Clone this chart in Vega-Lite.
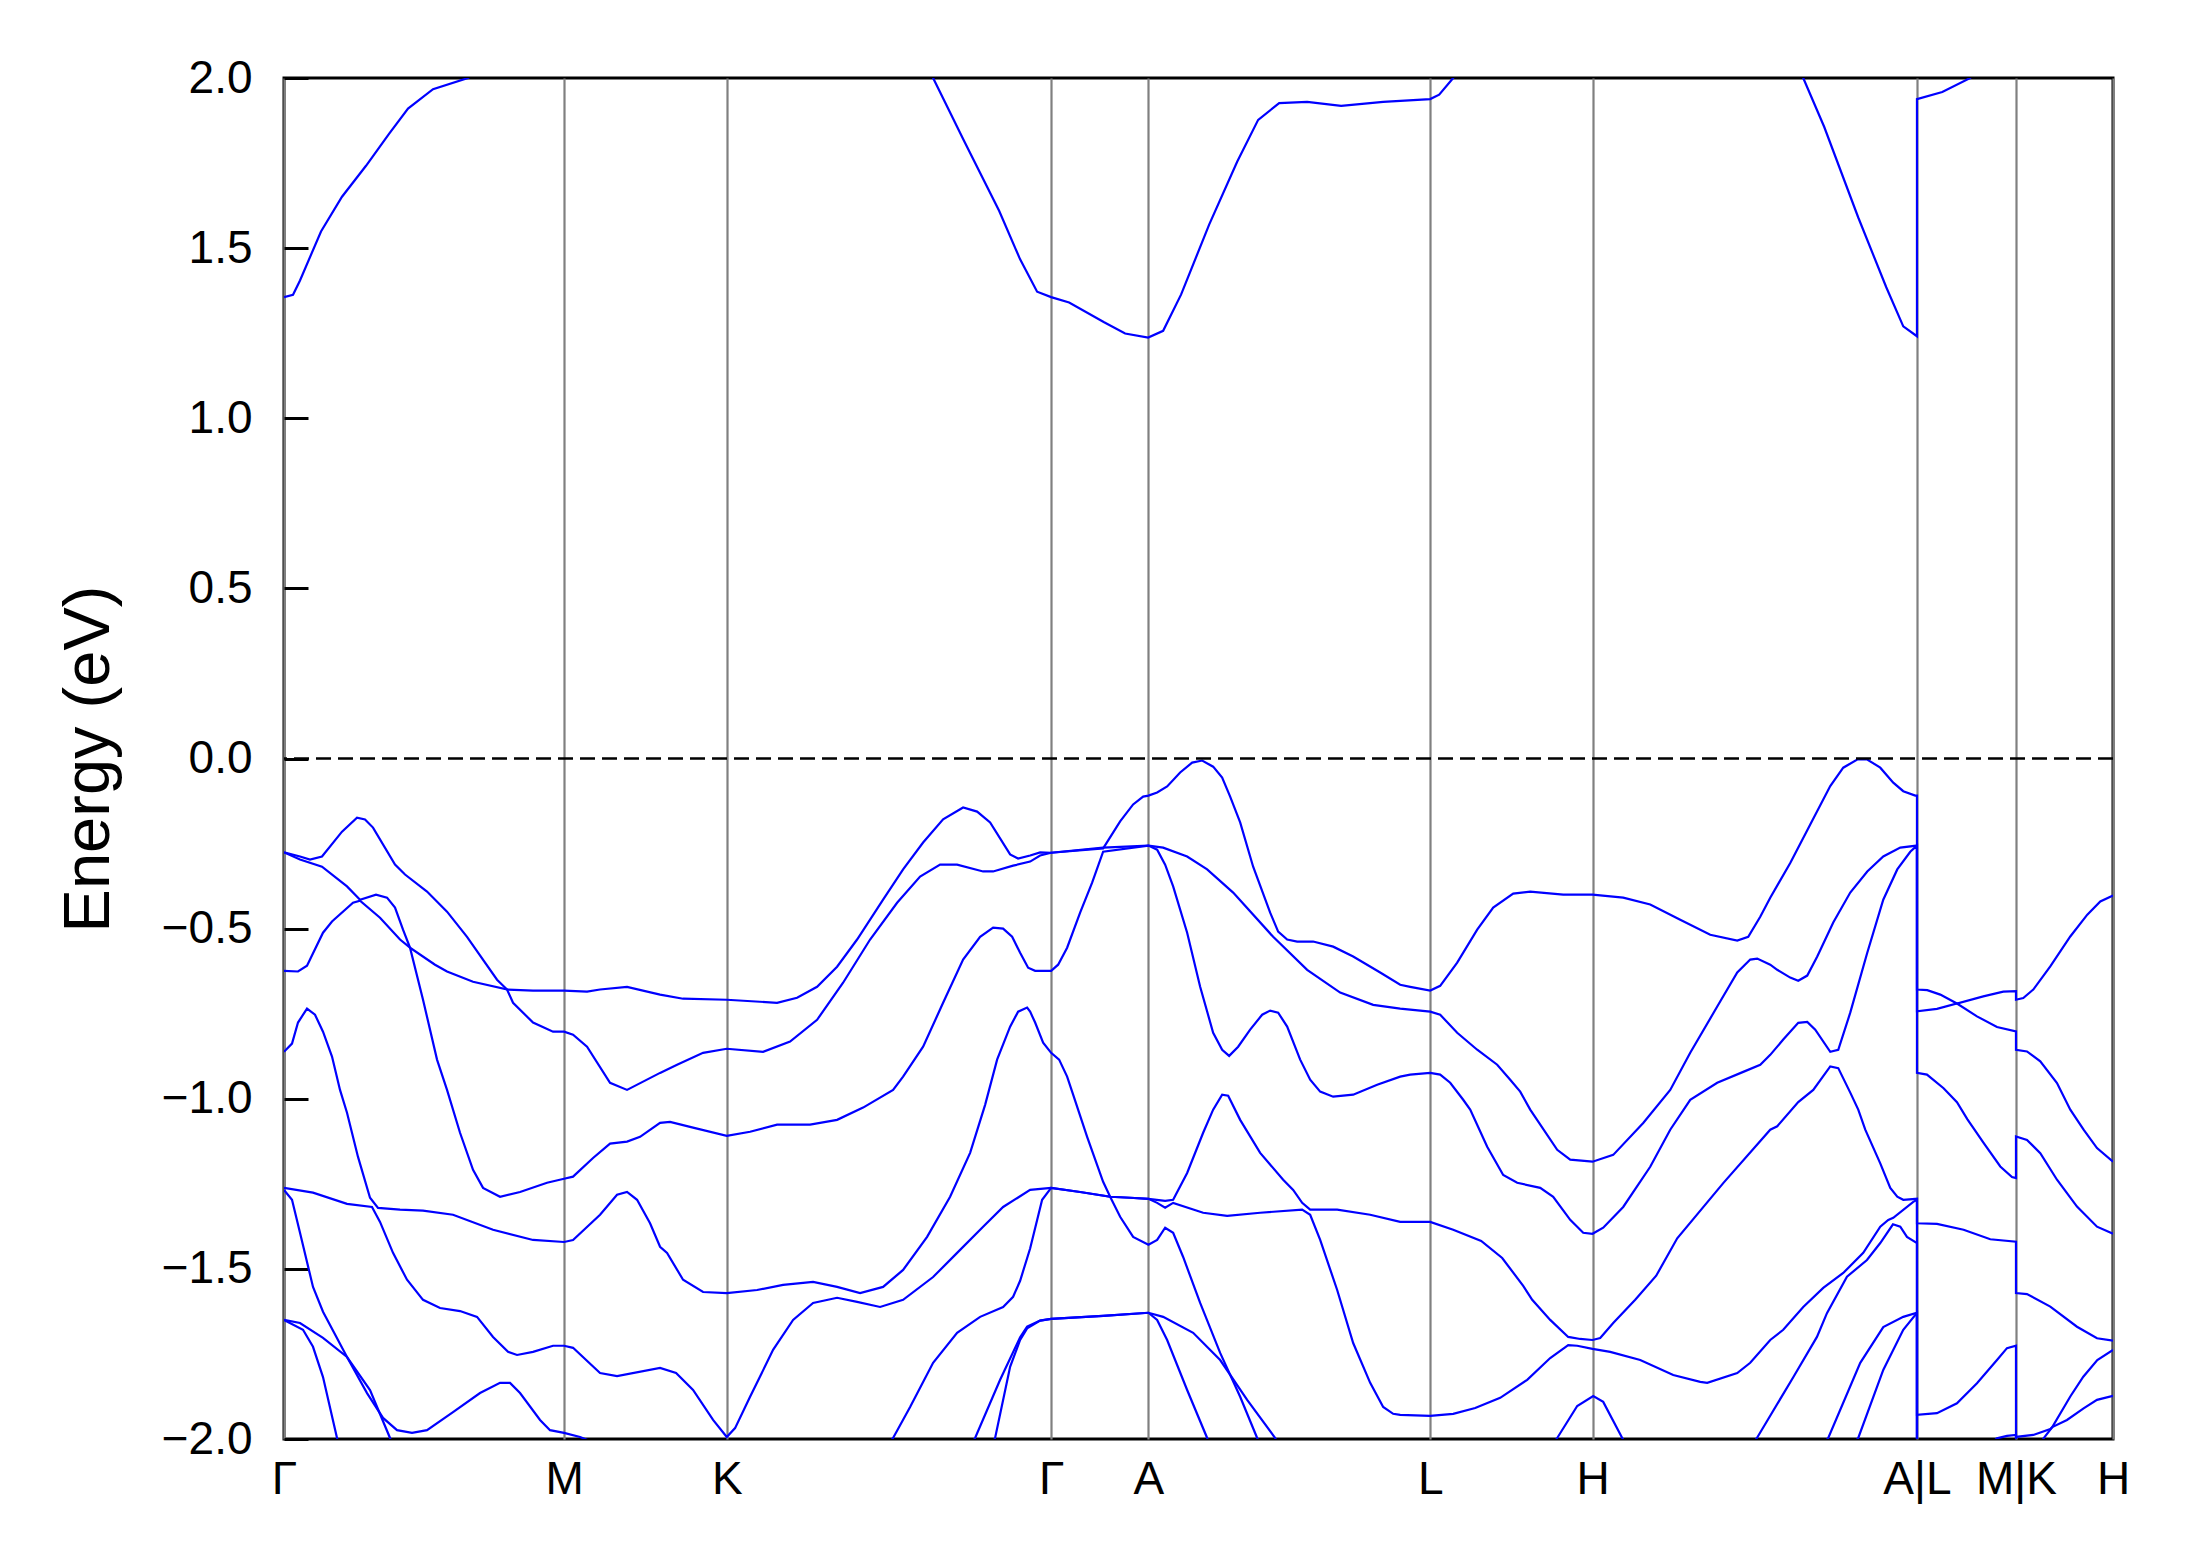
{
"$schema":"https://vega.github.io/schema/vega-lite/v6.json",
"width":1829,"height":1361,
"autosize":{"type":"none"},
"padding":{"left":284,"top":78,"right":78,"bottom":128},
"background":"white",
"config":{"view":{"stroke":"black","strokeWidth":3},"font":"Liberation Sans",
"axis":{"labelFont":"Liberation Sans","titleFont":"Liberation Sans","labelColor":"black","titleColor":"black","domain":false}},
"datasets":{"bands":[
{"b":"c","i":1,"k":0,"e":1.356},{"b":"c","i":1.5,"k":9,"e":1.363},{"b":"c","i":2,"k":16,"e":1.405},{"b":"c","i":3,"k":37,"e":1.549},{"b":"c","i":4,"k":58,"e":1.651},{"b":"c","i":5,"k":82,"e":1.742},{"b":"c","i":6,"k":105,"e":1.836},{"b":"c","i":7,"k":124,"e":1.91},{"b":"c","i":8,"k":149,"e":1.967},{"b":"c","i":9,"k":184,"e":2.0},{"b":"c","i":10,"k":260,"e":2.15},{"b":"c","i":11,"k":443,"e":2.6},{"b":"c","i":12,"k":610,"e":2.2},{"b":"c","i":13,"k":649,"e":2.0},{"b":"c","i":14,"k":680,"e":1.815},{"b":"c","i":15,"k":715,"e":1.61},{"b":"c","i":16,"k":736,"e":1.467},{"b":"c","i":17,"k":753,"e":1.372},{"b":"c","i":18,"k":767,"e":1.356},{"b":"c","i":19,"k":785,"e":1.34},{"b":"c","i":20,"k":820,"e":1.282},{"b":"c","i":21,"k":841,"e":1.249},{"b":"c","i":22,"k":864,"e":1.237},{"b":"c","i":23,"k":879,"e":1.257},{"b":"c","i":24,"k":897,"e":1.364},{"b":"c","i":25,"k":925,"e":1.569},{"b":"c","i":26,"k":953,"e":1.754},{"b":"c","i":27,"k":974,"e":1.877},{"b":"c","i":28,"k":995,"e":1.926},{"b":"c","i":29,"k":1023,"e":1.93},{"b":"c","i":30,"k":1057,"e":1.918},{"b":"c","i":31,"k":1099,"e":1.93},{"b":"c","i":32,"k":1146,"e":1.938},{"b":"c","i":33,"k":1155,"e":1.951},{"b":"c","i":34,"k":1169,"e":2.0},{"b":"c","i":35,"k":1250,"e":2.3},{"b":"c","i":36,"k":1308,"e":2.5},{"b":"c","i":37,"k":1450,"e":2.3},{"b":"c","i":38,"k":1519,"e":2.0},{"b":"c","i":39,"k":1540,"e":1.856},{"b":"c","i":40,"k":1574,"e":1.59},{"b":"c","i":41,"k":1602,"e":1.385},{"b":"c","i":42,"k":1619,"e":1.27},{"b":"c","i":43,"k":1632.7,"e":1.241},{"b":"c","i":44,"k":1632.7,"e":1.938},{"b":"c","i":45,"k":1658,"e":1.959},{"b":"c","i":46,"k":1686,"e":2.0},{"b":"c","i":47,"k":1731.7,"e":2.3},{"b":"c","i":48,"k":1828.7,"e":2.5},

{"b":"v1","i":1,"k":0,"e":-0.276},{"b":"v1","i":2,"k":16,"e":-0.288},{"b":"v1","i":3,"k":26,"e":-0.297},{"b":"v1","i":4,"k":38,"e":-0.288},{"b":"v1","i":5,"k":58,"e":-0.215},{"b":"v1","i":6,"k":73,"e":-0.174},{"b":"v1","i":7,"k":81,"e":-0.179},{"b":"v1","i":8,"k":89,"e":-0.203},{"b":"v1","i":9,"k":111,"e":-0.312},{"b":"v1","i":10,"k":121,"e":-0.341},{"b":"v1","i":11,"k":143,"e":-0.391},{"b":"v1","i":12,"k":163,"e":-0.45},{"b":"v1","i":13,"k":183,"e":-0.524},{"b":"v1","i":14,"k":213,"e":-0.65},{"b":"v1","i":15,"k":223,"e":-0.679},{"b":"v1","i":16,"k":249,"e":-0.682},{"b":"v1","i":17,"k":280,"e":-0.682},{"b":"v1","i":18,"k":303,"e":-0.685},{"b":"v1","i":19,"k":316,"e":-0.679},{"b":"v1","i":20,"k":343,"e":-0.671},{"b":"v1","i":21,"k":376,"e":-0.694},{"b":"v1","i":22,"k":399,"e":-0.706},{"b":"v1","i":23,"k":442.7,"e":-0.709},{"b":"v1","i":24,"k":493,"e":-0.718},{"b":"v1","i":25,"k":513,"e":-0.703},{"b":"v1","i":26,"k":533,"e":-0.671},{"b":"v1","i":27,"k":553,"e":-0.612},{"b":"v1","i":28,"k":573,"e":-0.532},{"b":"v1","i":29,"k":599,"e":-0.415},{"b":"v1","i":30,"k":619,"e":-0.326},{"b":"v1","i":31,"k":639,"e":-0.247},{"b":"v1","i":32,"k":659,"e":-0.179},{"b":"v1","i":33,"k":679,"e":-0.144},{"b":"v1","i":34,"k":693,"e":-0.156},{"b":"v1","i":35,"k":706,"e":-0.188},{"b":"v1","i":36,"k":726,"e":-0.282},{"b":"v1","i":37,"k":734,"e":-0.294},{"b":"v1","i":38,"k":746,"e":-0.285},{"b":"v1","i":39,"k":756,"e":-0.276},{"b":"v1","i":40,"k":767,"e":-0.277},{"b":"v1","i":41,"k":819,"e":-0.264},{"b":"v1","i":42,"k":836,"e":-0.185},{"b":"v1","i":43,"k":849,"e":-0.135},{"b":"v1","i":44,"k":859,"e":-0.112},{"b":"v1","i":45,"k":864.3,"e":-0.109},{"b":"v1","i":46,"k":873,"e":-0.1},{"b":"v1","i":47,"k":883,"e":-0.082},{"b":"v1","i":48,"k":896,"e":-0.041},{"b":"v1","i":49,"k":908,"e":-0.012},{"b":"v1","i":50,"k":918,"e":-0.006},{"b":"v1","i":51,"k":929,"e":-0.024},{"b":"v1","i":52,"k":938,"e":-0.056},{"b":"v1","i":53,"k":946,"e":-0.112},{"b":"v1","i":54,"k":956,"e":-0.188},{"b":"v1","i":55,"k":969,"e":-0.318},{"b":"v1","i":56,"k":986,"e":-0.453},{"b":"v1","i":57,"k":994,"e":-0.509},{"b":"v1","i":58,"k":1003,"e":-0.532},{"b":"v1","i":59,"k":1013,"e":-0.538},{"b":"v1","i":60,"k":1029,"e":-0.538},{"b":"v1","i":61,"k":1049,"e":-0.553},{"b":"v1","i":62,"k":1069,"e":-0.582},{"b":"v1","i":63,"k":1096,"e":-0.629},{"b":"v1","i":64,"k":1116,"e":-0.665},{"b":"v1","i":65,"k":1126,"e":-0.671},{"b":"v1","i":66,"k":1146,"e":-0.682},{"b":"v1","i":67,"k":1156,"e":-0.668},{"b":"v1","i":68,"k":1173,"e":-0.6},{"b":"v1","i":69,"k":1193,"e":-0.503},{"b":"v1","i":70,"k":1209,"e":-0.438},{"b":"v1","i":71,"k":1229,"e":-0.397},{"b":"v1","i":72,"k":1246,"e":-0.391},{"b":"v1","i":73,"k":1279,"e":-0.4},{"b":"v1","i":74,"k":1308.3,"e":-0.4},{"b":"v1","i":75,"k":1339,"e":-0.409},{"b":"v1","i":76,"k":1366,"e":-0.429},{"b":"v1","i":77,"k":1396,"e":-0.474},{"b":"v1","i":78,"k":1426,"e":-0.518},{"b":"v1","i":79,"k":1453,"e":-0.535},{"b":"v1","i":80,"k":1464,"e":-0.524},{"b":"v1","i":81,"k":1476,"e":-0.465},{"b":"v1","i":82,"k":1486,"e":-0.409},{"b":"v1","i":83,"k":1506,"e":-0.307},{"b":"v1","i":84,"k":1526,"e":-0.194},{"b":"v1","i":85,"k":1546,"e":-0.081},{"b":"v1","i":86,"k":1559,"e":-0.027},{"b":"v1","i":87,"k":1573,"e":-0.003},{"b":"v1","i":88,"k":1583,"e":-0.003},{"b":"v1","i":89,"k":1596,"e":-0.027},{"b":"v1","i":90,"k":1609,"e":-0.071},{"b":"v1","i":91,"k":1619,"e":-0.096},{"b":"v1","i":92,"k":1631,"e":-0.109},{"b":"v1","i":93,"k":1632.7,"e":-0.109},{"b":"v1","i":94,"k":1632.7,"e":-0.679},{"b":"v1","i":95,"k":1643,"e":-0.681},{"b":"v1","i":96,"k":1656,"e":-0.694},{"b":"v1","i":97,"k":1672.7,"e":-0.72},{"b":"v1","i":98,"k":1699,"e":-0.699},{"b":"v1","i":99,"k":1719,"e":-0.685},{"b":"v1","i":100,"k":1731.7,"e":-0.684},{"b":"v1","i":101,"k":1731.7,"e":-0.709},{"b":"v1","i":102,"k":1739,"e":-0.704},{"b":"v1","i":103,"k":1749,"e":-0.679},{"b":"v1","i":104,"k":1766,"e":-0.611},{"b":"v1","i":105,"k":1786,"e":-0.523},{"b":"v1","i":106,"k":1803,"e":-0.459},{"b":"v1","i":107,"k":1816,"e":-0.42},{"b":"v1","i":108,"k":1828.7,"e":-0.403},

{"b":"v2","i":1,"k":0,"e":-0.276},{"b":"v2","i":2,"k":16,"e":-0.297},{"b":"v2","i":3,"k":38,"e":-0.318},{"b":"v2","i":4,"k":63,"e":-0.376},{"b":"v2","i":5,"k":76,"e":-0.415},{"b":"v2","i":6,"k":92,"e":-0.4},{"b":"v2","i":7,"k":103,"e":-0.409},{"b":"v2","i":8,"k":111,"e":-0.438},{"b":"v2","i":9,"k":119,"e":-0.503},{"b":"v2","i":10,"k":126,"e":-0.556},{"b":"v2","i":11,"k":151,"e":-0.606},{"b":"v2","i":12,"k":163,"e":-0.626},{"b":"v2","i":13,"k":189,"e":-0.656},{"b":"v2","i":14,"k":223,"e":-0.679},{"b":"v2","i":15,"k":229,"e":-0.718},{"b":"v2","i":16,"k":249,"e":-0.776},{"b":"v2","i":17,"k":269,"e":-0.803},{"b":"v2","i":18,"k":280,"e":-0.803},{"b":"v2","i":19,"k":289,"e":-0.812},{"b":"v2","i":20,"k":303,"e":-0.847},{"b":"v2","i":21,"k":326,"e":-0.953},{"b":"v2","i":22,"k":343,"e":-0.974},{"b":"v2","i":23,"k":376,"e":-0.924},{"b":"v2","i":24,"k":393,"e":-0.9},{"b":"v2","i":25,"k":419,"e":-0.865},{"b":"v2","i":26,"k":442.7,"e":-0.853},{"b":"v2","i":27,"k":479,"e":-0.862},{"b":"v2","i":28,"k":506,"e":-0.832},{"b":"v2","i":29,"k":533,"e":-0.768},{"b":"v2","i":30,"k":559,"e":-0.659},{"b":"v2","i":31,"k":586,"e":-0.532},{"b":"v2","i":32,"k":613,"e":-0.424},{"b":"v2","i":33,"k":636,"e":-0.347},{"b":"v2","i":34,"k":656,"e":-0.312},{"b":"v2","i":35,"k":673,"e":-0.312},{"b":"v2","i":36,"k":699,"e":-0.332},{"b":"v2","i":37,"k":709,"e":-0.332},{"b":"v2","i":38,"k":729,"e":-0.315},{"b":"v2","i":39,"k":746,"e":-0.303},{"b":"v2","i":40,"k":756,"e":-0.285},{"b":"v2","i":41,"k":767,"e":-0.277},{"b":"v2","i":42,"k":819,"e":-0.262},{"b":"v2","i":43,"k":864.3,"e":-0.256},{"b":"v2","i":44,"k":879,"e":-0.262},{"b":"v2","i":45,"k":903,"e":-0.288},{"b":"v2","i":46,"k":923,"e":-0.326},{"b":"v2","i":47,"k":949,"e":-0.394},{"b":"v2","i":48,"k":989,"e":-0.524},{"b":"v2","i":49,"k":1023,"e":-0.621},{"b":"v2","i":50,"k":1056,"e":-0.688},{"b":"v2","i":51,"k":1089,"e":-0.724},{"b":"v2","i":52,"k":1116,"e":-0.735},{"b":"v2","i":53,"k":1146,"e":-0.744},{"b":"v2","i":54,"k":1156,"e":-0.753},{"b":"v2","i":55,"k":1173,"e":-0.806},{"b":"v2","i":56,"k":1193,"e":-0.856},{"b":"v2","i":57,"k":1213,"e":-0.9},{"b":"v2","i":58,"k":1226,"e":-0.944},{"b":"v2","i":59,"k":1236,"e":-0.979},{"b":"v2","i":60,"k":1246,"e":-1.032},{"b":"v2","i":61,"k":1273,"e":-1.15},{"b":"v2","i":62,"k":1286,"e":-1.179},{"b":"v2","i":63,"k":1308.3,"e":-1.185},{"b":"v2","i":64,"k":1329,"e":-1.165},{"b":"v2","i":65,"k":1359,"e":-1.071},{"b":"v2","i":66,"k":1386,"e":-0.974},{"b":"v2","i":67,"k":1406,"e":-0.865},{"b":"v2","i":68,"k":1433,"e":-0.729},{"b":"v2","i":69,"k":1453,"e":-0.629},{"b":"v2","i":70,"k":1466,"e":-0.591},{"b":"v2","i":71,"k":1473,"e":-0.588},{"b":"v2","i":72,"k":1486,"e":-0.606},{"b":"v2","i":73,"k":1493,"e":-0.621},{"b":"v2","i":74,"k":1506,"e":-0.644},{"b":"v2","i":75,"k":1514,"e":-0.653},{"b":"v2","i":76,"k":1523,"e":-0.638},{"b":"v2","i":77,"k":1533,"e":-0.582},{"b":"v2","i":78,"k":1549,"e":-0.482},{"b":"v2","i":79,"k":1566,"e":-0.394},{"b":"v2","i":80,"k":1583,"e":-0.332},{"b":"v2","i":81,"k":1599,"e":-0.288},{"b":"v2","i":82,"k":1616,"e":-0.262},{"b":"v2","i":83,"k":1632.7,"e":-0.256},{"b":"v2","i":84,"k":1632.7,"e":-0.743},{"b":"v2","i":85,"k":1652.7,"e":-0.736},{"b":"v2","i":86,"k":1672.7,"e":-0.72},{"b":"v2","i":87,"k":1692.7,"e":-0.758},{"b":"v2","i":88,"k":1712.7,"e":-0.789},{"b":"v2","i":89,"k":1731.7,"e":-0.802},{"b":"v2","i":90,"k":1731.7,"e":-0.856},{"b":"v2","i":91,"k":1742.7,"e":-0.861},{"b":"v2","i":92,"k":1756,"e":-0.89},{"b":"v2","i":93,"k":1772.7,"e":-0.954},{"b":"v2","i":94,"k":1786,"e":-1.032},{"b":"v2","i":95,"k":1799.3,"e":-1.091},{"b":"v2","i":96,"k":1812.7,"e":-1.145},{"b":"v2","i":97,"k":1828.7,"e":-1.185},

{"b":"v3","i":1,"k":0,"e":-0.624},{"b":"v3","i":2,"k":14,"e":-0.626},{"b":"v3","i":3,"k":23,"e":-0.609},{"b":"v3","i":4,"k":39,"e":-0.512},{"b":"v3","i":5,"k":48,"e":-0.479},{"b":"v3","i":6,"k":69,"e":-0.424},{"b":"v3","i":7,"k":76,"e":-0.418},{"b":"v3","i":8,"k":96,"e":-0.468},{"b":"v3","i":9,"k":116,"e":-0.532},{"b":"v3","i":10,"k":126,"e":-0.556},{"b":"v3","i":11,"k":139,"e":-0.709},{"b":"v3","i":12,"k":153,"e":-0.885},{"b":"v3","i":13,"k":163,"e":-0.974},{"b":"v3","i":14,"k":176,"e":-1.1},{"b":"v3","i":15,"k":189,"e":-1.209},{"b":"v3","i":16,"k":199,"e":-1.262},{"b":"v3","i":17,"k":216,"e":-1.288},{"b":"v3","i":18,"k":236,"e":-1.274},{"b":"v3","i":19,"k":263,"e":-1.247},{"b":"v3","i":20,"k":280,"e":-1.235},{"b":"v3","i":21,"k":289,"e":-1.229},{"b":"v3","i":22,"k":309,"e":-1.174},{"b":"v3","i":23,"k":326,"e":-1.132},{"b":"v3","i":24,"k":343,"e":-1.126},{"b":"v3","i":25,"k":356,"e":-1.112},{"b":"v3","i":26,"k":376,"e":-1.071},{"b":"v3","i":27,"k":386,"e":-1.068},{"b":"v3","i":28,"k":409,"e":-1.085},{"b":"v3","i":29,"k":442.7,"e":-1.109},{"b":"v3","i":30,"k":466,"e":-1.097},{"b":"v3","i":31,"k":493,"e":-1.076},{"b":"v3","i":32,"k":526,"e":-1.076},{"b":"v3","i":33,"k":553,"e":-1.062},{"b":"v3","i":34,"k":579,"e":-1.026},{"b":"v3","i":35,"k":609,"e":-0.974},{"b":"v3","i":36,"k":619,"e":-0.935},{"b":"v3","i":37,"k":639,"e":-0.847},{"b":"v3","i":38,"k":659,"e":-0.718},{"b":"v3","i":39,"k":679,"e":-0.591},{"b":"v3","i":40,"k":696,"e":-0.524},{"b":"v3","i":41,"k":709,"e":-0.497},{"b":"v3","i":42,"k":719,"e":-0.5},{"b":"v3","i":43,"k":728,"e":-0.524},{"b":"v3","i":44,"k":736,"e":-0.571},{"b":"v3","i":45,"k":744,"e":-0.615},{"b":"v3","i":46,"k":751,"e":-0.624},{"b":"v3","i":47,"k":767,"e":-0.624},{"b":"v3","i":48,"k":774,"e":-0.606},{"b":"v3","i":49,"k":783,"e":-0.556},{"b":"v3","i":50,"k":796,"e":-0.453},{"b":"v3","i":51,"k":808,"e":-0.365},{"b":"v3","i":52,"k":819,"e":-0.274},{"b":"v3","i":53,"k":864.3,"e":-0.256},{"b":"v3","i":54,"k":873,"e":-0.268},{"b":"v3","i":55,"k":881,"e":-0.312},{"b":"v3","i":56,"k":889,"e":-0.376},{"b":"v3","i":57,"k":903,"e":-0.512},{"b":"v3","i":58,"k":916,"e":-0.671},{"b":"v3","i":59,"k":929,"e":-0.806},{"b":"v3","i":60,"k":938,"e":-0.856},{"b":"v3","i":61,"k":945,"e":-0.874},{"b":"v3","i":62,"k":954,"e":-0.847},{"b":"v3","i":63,"k":966,"e":-0.797},{"b":"v3","i":64,"k":978,"e":-0.753},{"b":"v3","i":65,"k":986,"e":-0.741},{"b":"v3","i":66,"k":994,"e":-0.747},{"b":"v3","i":67,"k":1003,"e":-0.788},{"b":"v3","i":68,"k":1016,"e":-0.885},{"b":"v3","i":69,"k":1026,"e":-0.944},{"b":"v3","i":70,"k":1036,"e":-0.979},{"b":"v3","i":71,"k":1049,"e":-0.994},{"b":"v3","i":72,"k":1069,"e":-0.988},{"b":"v3","i":73,"k":1093,"e":-0.959},{"b":"v3","i":74,"k":1116,"e":-0.935},{"b":"v3","i":75,"k":1126,"e":-0.929},{"b":"v3","i":76,"k":1146,"e":-0.924},{"b":"v3","i":77,"k":1156,"e":-0.929},{"b":"v3","i":78,"k":1166,"e":-0.953},{"b":"v3","i":79,"k":1179,"e":-1.003},{"b":"v3","i":80,"k":1186,"e":-1.032},{"b":"v3","i":81,"k":1203,"e":-1.141},{"b":"v3","i":82,"k":1219,"e":-1.224},{"b":"v3","i":83,"k":1233,"e":-1.247},{"b":"v3","i":84,"k":1256,"e":-1.262},{"b":"v3","i":85,"k":1269,"e":-1.288},{"b":"v3","i":86,"k":1286,"e":-1.356},{"b":"v3","i":87,"k":1299,"e":-1.394},{"b":"v3","i":88,"k":1308.3,"e":-1.397},{"b":"v3","i":89,"k":1319,"e":-1.379},{"b":"v3","i":90,"k":1339,"e":-1.318},{"b":"v3","i":91,"k":1366,"e":-1.2},{"b":"v3","i":92,"k":1386,"e":-1.091},{"b":"v3","i":93,"k":1406,"e":-1.003},{"b":"v3","i":94,"k":1433,"e":-0.953},{"b":"v3","i":95,"k":1459,"e":-0.921},{"b":"v3","i":96,"k":1476,"e":-0.9},{"b":"v3","i":97,"k":1486,"e":-0.871},{"b":"v3","i":98,"k":1499,"e":-0.826},{"b":"v3","i":99,"k":1514,"e":-0.777},{"b":"v3","i":100,"k":1523,"e":-0.774},{"b":"v3","i":101,"k":1531,"e":-0.797},{"b":"v3","i":102,"k":1546,"e":-0.862},{"b":"v3","i":103,"k":1554,"e":-0.856},{"b":"v3","i":104,"k":1566,"e":-0.747},{"b":"v3","i":105,"k":1583,"e":-0.571},{"b":"v3","i":106,"k":1599,"e":-0.415},{"b":"v3","i":107,"k":1613,"e":-0.326},{"b":"v3","i":108,"k":1626,"e":-0.274},{"b":"v3","i":109,"k":1632.7,"e":-0.256},{"b":"v3","i":110,"k":1632.7,"e":-0.924},{"b":"v3","i":111,"k":1642.7,"e":-0.929},{"b":"v3","i":112,"k":1659.3,"e":-0.969},{"b":"v3","i":113,"k":1672.7,"e":-1.01},{"b":"v3","i":114,"k":1683,"e":-1.06},{"b":"v3","i":115,"k":1699.3,"e":-1.13},{"b":"v3","i":116,"k":1716,"e":-1.199},{"b":"v3","i":117,"k":1727.7,"e":-1.23},{"b":"v3","i":118,"k":1731.7,"e":-1.233},{"b":"v3","i":119,"k":1731.7,"e":-1.111},{"b":"v3","i":120,"k":1742.7,"e":-1.121},{"b":"v3","i":121,"k":1756,"e":-1.16},{"b":"v3","i":122,"k":1772.7,"e":-1.238},{"b":"v3","i":123,"k":1792.7,"e":-1.317},{"b":"v3","i":124,"k":1812.7,"e":-1.376},{"b":"v3","i":125,"k":1828.7,"e":-1.397},

{"b":"v4","i":1,"k":0,"e":-0.862},{"b":"v4","i":2,"k":8,"e":-0.838},{"b":"v4","i":3,"k":14,"e":-0.776},{"b":"v4","i":4,"k":23,"e":-0.735},{"b":"v4","i":5,"k":31,"e":-0.753},{"b":"v4","i":6,"k":39,"e":-0.803},{"b":"v4","i":7,"k":48,"e":-0.876},{"b":"v4","i":8,"k":56,"e":-0.974},{"b":"v4","i":9,"k":63,"e":-1.041},{"b":"v4","i":10,"k":74,"e":-1.171},{"b":"v4","i":11,"k":86,"e":-1.291},{"b":"v4","i":12,"k":94,"e":-1.321},{"b":"v4","i":13,"k":116,"e":-1.326},{"b":"v4","i":14,"k":139,"e":-1.329},{"b":"v4","i":15,"k":169,"e":-1.341},{"b":"v4","i":16,"k":209,"e":-1.385},{"b":"v4","i":17,"k":249,"e":-1.415},{"b":"v4","i":18,"k":280,"e":-1.421},{"b":"v4","i":19,"k":289,"e":-1.415},{"b":"v4","i":20,"k":316,"e":-1.341},{"b":"v4","i":21,"k":333,"e":-1.282},{"b":"v4","i":22,"k":343,"e":-1.274},{"b":"v4","i":23,"k":353,"e":-1.297},{"b":"v4","i":24,"k":366,"e":-1.366},{"b":"v4","i":25,"k":376,"e":-1.435},{"b":"v4","i":26,"k":383,"e":-1.453},{"b":"v4","i":27,"k":399,"e":-1.532},{"b":"v4","i":28,"k":419,"e":-1.568},{"b":"v4","i":29,"k":442.7,"e":-1.571},{"b":"v4","i":30,"k":473,"e":-1.562},{"b":"v4","i":31,"k":499,"e":-1.547},{"b":"v4","i":32,"k":529,"e":-1.538},{"b":"v4","i":33,"k":553,"e":-1.553},{"b":"v4","i":34,"k":576,"e":-1.571},{"b":"v4","i":35,"k":599,"e":-1.553},{"b":"v4","i":36,"k":619,"e":-1.503},{"b":"v4","i":37,"k":643,"e":-1.406},{"b":"v4","i":38,"k":666,"e":-1.288},{"b":"v4","i":39,"k":686,"e":-1.159},{"b":"v4","i":40,"k":701,"e":-1.018},{"b":"v4","i":41,"k":713,"e":-0.885},{"b":"v4","i":42,"k":726,"e":-0.788},{"b":"v4","i":43,"k":734,"e":-0.744},{"b":"v4","i":44,"k":743,"e":-0.732},{"b":"v4","i":45,"k":746,"e":-0.744},{"b":"v4","i":46,"k":751,"e":-0.776},{"b":"v4","i":47,"k":759,"e":-0.835},{"b":"v4","i":48,"k":767,"e":-0.865},{"b":"v4","i":49,"k":775,"e":-0.885},{"b":"v4","i":50,"k":783,"e":-0.935},{"b":"v4","i":51,"k":789,"e":-0.988},{"b":"v4","i":52,"k":803,"e":-1.112},{"b":"v4","i":53,"k":819,"e":-1.244},{"b":"v4","i":54,"k":826,"e":-1.288},{"b":"v4","i":55,"k":846,"e":-1.291},{"b":"v4","i":56,"k":864.3,"e":-1.294},{"b":"v4","i":57,"k":881,"e":-1.3},{"b":"v4","i":58,"k":889,"e":-1.297},{"b":"v4","i":59,"k":903,"e":-1.218},{"b":"v4","i":60,"k":919,"e":-1.1},{"b":"v4","i":61,"k":929,"e":-1.032},{"b":"v4","i":62,"k":938,"e":-0.988},{"b":"v4","i":63,"k":944,"e":-0.991},{"b":"v4","i":64,"k":956,"e":-1.062},{"b":"v4","i":65,"k":976,"e":-1.159},{"b":"v4","i":66,"k":999,"e":-1.238},{"b":"v4","i":67,"k":1009,"e":-1.268},{"b":"v4","i":68,"k":1018,"e":-1.306},{"b":"v4","i":69,"k":1026,"e":-1.326},{"b":"v4","i":70,"k":1053,"e":-1.326},{"b":"v4","i":71,"k":1086,"e":-1.341},{"b":"v4","i":72,"k":1116,"e":-1.362},{"b":"v4","i":73,"k":1146,"e":-1.362},{"b":"v4","i":74,"k":1169,"e":-1.385},{"b":"v4","i":75,"k":1197,"e":-1.418},{"b":"v4","i":76,"k":1218,"e":-1.468},{"b":"v4","i":77,"k":1239,"e":-1.55},{"b":"v4","i":78,"k":1248,"e":-1.591},{"b":"v4","i":79,"k":1266,"e":-1.65},{"b":"v4","i":80,"k":1284,"e":-1.7},{"b":"v4","i":81,"k":1296,"e":-1.706},{"b":"v4","i":82,"k":1308.3,"e":-1.709},{"b":"v4","i":83,"k":1316,"e":-1.703},{"b":"v4","i":84,"k":1329,"e":-1.659},{"b":"v4","i":85,"k":1351,"e":-1.591},{"b":"v4","i":86,"k":1372,"e":-1.52},{"b":"v4","i":87,"k":1393,"e":-1.41},{"b":"v4","i":88,"k":1439,"e":-1.248},{"b":"v4","i":89,"k":1486,"e":-1.091},{"b":"v4","i":90,"k":1493,"e":-1.081},{"b":"v4","i":91,"k":1514,"e":-1.01},{"b":"v4","i":92,"k":1529,"e":-0.974},{"b":"v4","i":93,"k":1546,"e":-0.905},{"b":"v4","i":94,"k":1554,"e":-0.91},{"b":"v4","i":95,"k":1566,"e":-0.982},{"b":"v4","i":96,"k":1574,"e":-1.032},{"b":"v4","i":97,"k":1581,"e":-1.091},{"b":"v4","i":98,"k":1596,"e":-1.19},{"b":"v4","i":99,"k":1606,"e":-1.262},{"b":"v4","i":100,"k":1613,"e":-1.288},{"b":"v4","i":101,"k":1619,"e":-1.297},{"b":"v4","i":102,"k":1632.7,"e":-1.294},{"b":"v4","i":103,"k":1632.7,"e":-1.366},{"b":"v4","i":104,"k":1652.7,"e":-1.368},{"b":"v4","i":105,"k":1679.3,"e":-1.385},{"b":"v4","i":106,"k":1706,"e":-1.413},{"b":"v4","i":107,"k":1731.7,"e":-1.42},{"b":"v4","i":108,"k":1731.7,"e":-1.571},{"b":"v4","i":109,"k":1742.7,"e":-1.574},{"b":"v4","i":110,"k":1766,"e":-1.611},{"b":"v4","i":111,"k":1792.7,"e":-1.67},{"b":"v4","i":112,"k":1812.7,"e":-1.704},{"b":"v4","i":113,"k":1828.7,"e":-1.711},

{"b":"v5","i":1,"k":0,"e":-1.262},{"b":"v5","i":2,"k":29,"e":-1.276},{"b":"v5","i":3,"k":63,"e":-1.309},{"b":"v5","i":4,"k":88,"e":-1.318},{"b":"v5","i":5,"k":96,"e":-1.362},{"b":"v5","i":6,"k":109,"e":-1.453},{"b":"v5","i":7,"k":123,"e":-1.532},{"b":"v5","i":8,"k":139,"e":-1.591},{"b":"v5","i":9,"k":156,"e":-1.615},{"b":"v5","i":10,"k":176,"e":-1.624},{"b":"v5","i":11,"k":193,"e":-1.641},{"b":"v5","i":12,"k":209,"e":-1.7},{"b":"v5","i":13,"k":224,"e":-1.744},{"b":"v5","i":14,"k":233,"e":-1.753},{"b":"v5","i":15,"k":249,"e":-1.744},{"b":"v5","i":16,"k":269,"e":-1.726},{"b":"v5","i":17,"k":280,"e":-1.726},{"b":"v5","i":18,"k":289,"e":-1.732},{"b":"v5","i":19,"k":316,"e":-1.806},{"b":"v5","i":20,"k":333,"e":-1.815},{"b":"v5","i":21,"k":376,"e":-1.791},{"b":"v5","i":22,"k":392,"e":-1.806},{"b":"v5","i":23,"k":409,"e":-1.856},{"b":"v5","i":24,"k":429,"e":-1.944},{"b":"v5","i":25,"k":442.7,"e":-1.994},{"b":"v5","i":26,"k":451,"e":-1.968},{"b":"v5","i":27,"k":466,"e":-1.876},{"b":"v5","i":28,"k":489,"e":-1.738},{"b":"v5","i":29,"k":509,"e":-1.65},{"b":"v5","i":30,"k":529,"e":-1.6},{"b":"v5","i":31,"k":553,"e":-1.585},{"b":"v5","i":32,"k":573,"e":-1.597},{"b":"v5","i":33,"k":596,"e":-1.612},{"b":"v5","i":34,"k":619,"e":-1.591},{"b":"v5","i":35,"k":649,"e":-1.524},{"b":"v5","i":36,"k":673,"e":-1.453},{"b":"v5","i":37,"k":699,"e":-1.376},{"b":"v5","i":38,"k":719,"e":-1.318},{"b":"v5","i":39,"k":746,"e":-1.268},{"b":"v5","i":40,"k":767,"e":-1.262},{"b":"v5","i":41,"k":796,"e":-1.274},{"b":"v5","i":42,"k":826,"e":-1.288},{"b":"v5","i":43,"k":846,"e":-1.291},{"b":"v5","i":44,"k":864.3,"e":-1.294},{"b":"v5","i":45,"k":873,"e":-1.306},{"b":"v5","i":46,"k":881,"e":-1.32},{"b":"v5","i":47,"k":889,"e":-1.306},{"b":"v5","i":48,"k":919,"e":-1.335},{"b":"v5","i":49,"k":943,"e":-1.344},{"b":"v5","i":50,"k":976,"e":-1.335},{"b":"v5","i":51,"k":1018,"e":-1.326},{"b":"v5","i":52,"k":1026,"e":-1.341},{"b":"v5","i":53,"k":1036,"e":-1.415},{"b":"v5","i":54,"k":1053,"e":-1.562},{"b":"v5","i":55,"k":1069,"e":-1.718},{"b":"v5","i":56,"k":1086,"e":-1.835},{"b":"v5","i":57,"k":1099,"e":-1.906},{"b":"v5","i":58,"k":1109,"e":-1.926},{"b":"v5","i":59,"k":1116,"e":-1.929},{"b":"v5","i":60,"k":1146,"e":-1.932},{"b":"v5","i":61,"k":1169,"e":-1.926},{"b":"v5","i":62,"k":1191,"e":-1.909},{"b":"v5","i":63,"k":1216,"e":-1.879},{"b":"v5","i":64,"k":1243,"e":-1.826},{"b":"v5","i":65,"k":1266,"e":-1.762},{"b":"v5","i":66,"k":1284,"e":-1.724},{"b":"v5","i":67,"k":1293,"e":-1.726},{"b":"v5","i":68,"k":1308.3,"e":-1.735},{"b":"v5","i":69,"k":1326,"e":-1.744},{"b":"v5","i":70,"k":1356,"e":-1.768},{"b":"v5","i":71,"k":1389,"e":-1.812},{"b":"v5","i":72,"k":1416,"e":-1.832},{"b":"v5","i":73,"k":1423,"e":-1.835},{"b":"v5","i":74,"k":1453,"e":-1.806},{"b":"v5","i":75,"k":1466,"e":-1.776},{"b":"v5","i":76,"k":1486,"e":-1.709},{"b":"v5","i":77,"k":1499,"e":-1.679},{"b":"v5","i":78,"k":1519,"e":-1.612},{"b":"v5","i":79,"k":1539,"e":-1.556},{"b":"v5","i":80,"k":1559,"e":-1.512},{"b":"v5","i":81,"k":1579,"e":-1.453},{"b":"v5","i":82,"k":1596,"e":-1.376},{"b":"v5","i":83,"k":1604,"e":-1.356},{"b":"v5","i":84,"k":1609,"e":-1.35},{"b":"v5","i":85,"k":1629,"e":-1.303},{"b":"v5","i":86,"k":1632.7,"e":-1.297},{"b":"v5","i":87,"k":1632.7,"e":-1.929},{"b":"v5","i":88,"k":1652.7,"e":-1.924},{"b":"v5","i":89,"k":1672.7,"e":-1.895},{"b":"v5","i":90,"k":1692.7,"e":-1.836},{"b":"v5","i":91,"k":1712.7,"e":-1.768},{"b":"v5","i":92,"k":1722.7,"e":-1.733},{"b":"v5","i":93,"k":1731.7,"e":-1.726},{"b":"v5","i":94,"k":1731.7,"e":-1.994},{"b":"v5","i":95,"k":1749,"e":-1.988},{"b":"v5","i":96,"k":1766,"e":-1.971},{"b":"v5","i":97,"k":1768,"e":-1.965},{"b":"v5","i":98,"k":1786,"e":-1.875},{"b":"v5","i":99,"k":1799,"e":-1.817},{"b":"v5","i":100,"k":1813,"e":-1.768},{"b":"v5","i":101,"k":1828.7,"e":-1.738},

{"b":"v6","i":1,"k":0,"e":-1.268},{"b":"v6","i":2,"k":8,"e":-1.297},{"b":"v6","i":3,"k":16,"e":-1.394},{"b":"v6","i":4,"k":29,"e":-1.553},{"b":"v6","i":5,"k":39,"e":-1.626},{"b":"v6","i":6,"k":63,"e":-1.759},{"b":"v6","i":7,"k":83,"e":-1.865},{"b":"v6","i":8,"k":99,"e":-1.938},{"b":"v6","i":9,"k":113,"e":-1.974},{"b":"v6","i":10,"k":128,"e":-1.982},{"b":"v6","i":11,"k":143,"e":-1.974},{"b":"v6","i":12,"k":169,"e":-1.921},{"b":"v6","i":13,"k":196,"e":-1.865},{"b":"v6","i":14,"k":216,"e":-1.835},{"b":"v6","i":15,"k":226,"e":-1.835},{"b":"v6","i":16,"k":236,"e":-1.865},{"b":"v6","i":17,"k":256,"e":-1.944},{"b":"v6","i":18,"k":266,"e":-1.974},{"b":"v6","i":19,"k":280,"e":-1.982},{"b":"v6","i":20,"k":296,"e":-1.994},{"b":"v6","i":21,"k":316,"e":-2.018},{"b":"v6","i":22,"k":380,"e":-2.15},{"b":"v6","i":23,"k":480,"e":-2.3},{"b":"v6","i":24,"k":560,"e":-2.15},{"b":"v6","i":25,"k":590,"e":-2.07},{"b":"v6","i":26,"k":609,"e":-1.997},{"b":"v6","i":27,"k":626,"e":-1.906},{"b":"v6","i":28,"k":649,"e":-1.776},{"b":"v6","i":29,"k":673,"e":-1.688},{"b":"v6","i":30,"k":696,"e":-1.641},{"b":"v6","i":31,"k":719,"e":-1.612},{"b":"v6","i":32,"k":729,"e":-1.582},{"b":"v6","i":33,"k":736,"e":-1.535},{"b":"v6","i":34,"k":746,"e":-1.44},{"b":"v6","i":35,"k":758,"e":-1.297},{"b":"v6","i":36,"k":767,"e":-1.262},{"b":"v6","i":37,"k":796,"e":-1.274},{"b":"v6","i":38,"k":826,"e":-1.288},{"b":"v6","i":39,"k":836,"e":-1.347},{"b":"v6","i":40,"k":849,"e":-1.406},{"b":"v6","i":41,"k":864.3,"e":-1.429},{"b":"v6","i":42,"k":873,"e":-1.415},{"b":"v6","i":43,"k":881,"e":-1.379},{"b":"v6","i":44,"k":889,"e":-1.394},{"b":"v6","i":45,"k":899,"e":-1.465},{"b":"v6","i":46,"k":916,"e":-1.6},{"b":"v6","i":47,"k":936,"e":-1.747},{"b":"v6","i":48,"k":956,"e":-1.876},{"b":"v6","i":49,"k":973,"e":-1.997},{"b":"v6","i":50,"k":978,"e":-2.03},{"b":"v6","i":51,"k":1100,"e":-2.4},{"b":"v6","i":52,"k":1250,"e":-2.1},{"b":"v6","i":53,"k":1273,"e":-1.997},{"b":"v6","i":54,"k":1293,"e":-1.903},{"b":"v6","i":55,"k":1309,"e":-1.874},{"b":"v6","i":56,"k":1319,"e":-1.891},{"b":"v6","i":57,"k":1338,"e":-1.997},{"b":"v6","i":58,"k":1345,"e":-2.03},{"b":"v6","i":59,"k":1420,"e":-2.2},{"b":"v6","i":60,"k":1465,"e":-2.03},{"b":"v6","i":61,"k":1472.7,"e":-1.997},{"b":"v6","i":62,"k":1509.3,"e":-1.817},{"b":"v6","i":63,"k":1532.7,"e":-1.7},{"b":"v6","i":64,"k":1542.7,"e":-1.63},{"b":"v6","i":65,"k":1562.7,"e":-1.523},{"b":"v6","i":66,"k":1582.7,"e":-1.474},{"b":"v6","i":67,"k":1596,"e":-1.424},{"b":"v6","i":68,"k":1608.7,"e":-1.369},{"b":"v6","i":69,"k":1616,"e":-1.376},{"b":"v6","i":70,"k":1622.7,"e":-1.406},{"b":"v6","i":71,"k":1632.7,"e":-1.424},{"b":"v6","i":72,"k":1632.7,"e":-2.1},{"b":"v6","i":73,"k":1700,"e":-2.03},{"b":"v6","i":74,"k":1712.7,"e":-1.998},{"b":"v6","i":75,"k":1722.7,"e":-1.991},{"b":"v6","i":76,"k":1731.7,"e":-1.988},{"b":"v6","i":77,"k":1731.7,"e":-2.15},{"b":"v6","i":78,"k":1759.3,"e":-1.998},{"b":"v6","i":79,"k":1768,"e":-1.965},{"b":"v6","i":80,"k":1782.7,"e":-1.944},{"b":"v6","i":81,"k":1799.3,"e":-1.91},{"b":"v6","i":82,"k":1812.7,"e":-1.885},{"b":"v6","i":83,"k":1828.7,"e":-1.873},

{"b":"v7","i":1,"k":0,"e":-1.65},{"b":"v7","i":2,"k":16,"e":-1.659},{"b":"v7","i":3,"k":39,"e":-1.703},{"b":"v7","i":4,"k":63,"e":-1.759},{"b":"v7","i":5,"k":86,"e":-1.856},{"b":"v7","i":6,"k":106,"e":-1.997},{"b":"v7","i":7,"k":109,"e":-2.026},{"b":"v7","i":8,"k":300,"e":-2.6},{"b":"v7","i":9,"k":600,"e":-2.4},{"b":"v7","i":10,"k":680,"e":-2.05},{"b":"v7","i":11,"k":691,"e":-1.997},{"b":"v7","i":12,"k":716,"e":-1.826},{"b":"v7","i":13,"k":736,"e":-1.701},{"b":"v7","i":14,"k":743,"e":-1.67},{"b":"v7","i":15,"k":756,"e":-1.652},{"b":"v7","i":16,"k":767,"e":-1.647},{"b":"v7","i":17,"k":819,"e":-1.638},{"b":"v7","i":18,"k":864.3,"e":-1.629},{"b":"v7","i":19,"k":879,"e":-1.641},{"b":"v7","i":20,"k":909,"e":-1.688},{"b":"v7","i":21,"k":936,"e":-1.768},{"b":"v7","i":22,"k":963,"e":-1.885},{"b":"v7","i":23,"k":991,"e":-1.997},{"b":"v7","i":24,"k":996,"e":-2.03},{"b":"v7","i":25,"k":1200,"e":-2.6},{"b":"v7","i":26,"k":1400,"e":-2.6},{"b":"v7","i":27,"k":1530,"e":-2.05},{"b":"v7","i":28,"k":1544,"e":-1.997},{"b":"v7","i":29,"k":1576,"e":-1.776},{"b":"v7","i":30,"k":1599,"e":-1.671},{"b":"v7","i":31,"k":1619,"e":-1.641},{"b":"v7","i":32,"k":1632.7,"e":-1.629},{"b":"v7","i":33,"k":1632.7,"e":-2.3},{"b":"v7","i":34,"k":1731.7,"e":-2.3},{"b":"v7","i":35,"k":1828.7,"e":-2.3},

{"b":"v8","i":1,"k":0,"e":-1.65},{"b":"v8","i":2,"k":19,"e":-1.679},{"b":"v8","i":3,"k":29,"e":-1.729},{"b":"v8","i":4,"k":39,"e":-1.818},{"b":"v8","i":5,"k":53,"e":-1.997},{"b":"v8","i":6,"k":55,"e":-2.026},{"b":"v8","i":7,"k":300,"e":-2.8},{"b":"v8","i":8,"k":600,"e":-2.5},{"b":"v8","i":9,"k":700,"e":-2.06},{"b":"v8","i":10,"k":711,"e":-1.997},{"b":"v8","i":11,"k":726,"e":-1.788},{"b":"v8","i":12,"k":736,"e":-1.709},{"b":"v8","i":13,"k":743,"e":-1.675},{"b":"v8","i":14,"k":756,"e":-1.652},{"b":"v8","i":15,"k":767,"e":-1.647},{"b":"v8","i":16,"k":819,"e":-1.638},{"b":"v8","i":17,"k":864.3,"e":-1.629},{"b":"v8","i":18,"k":873,"e":-1.65},{"b":"v8","i":19,"k":883,"e":-1.709},{"b":"v8","i":20,"k":903,"e":-1.856},{"b":"v8","i":21,"k":923,"e":-1.997},{"b":"v8","i":22,"k":926,"e":-2.03},{"b":"v8","i":23,"k":1200,"e":-2.7},{"b":"v8","i":24,"k":1400,"e":-2.7},{"b":"v8","i":25,"k":1560,"e":-2.05},{"b":"v8","i":26,"k":1574,"e":-1.997},{"b":"v8","i":27,"k":1599,"e":-1.797},{"b":"v8","i":28,"k":1619,"e":-1.679},{"b":"v8","i":29,"k":1632.7,"e":-1.629},{"b":"v8","i":30,"k":1632.7,"e":-2.4},{"b":"v8","i":31,"k":1828.7,"e":-2.4}
]},
"layer":[
{"data":{"name":"bands"},
 "mark":{"type":"line","color":"#0000ff","strokeWidth":2.2,"clip":true},
 "encoding":{
  "x":{"field":"k","type":"quantitative","scale":{"domain":[0,1828.7],"nice":false,"zero":false},
   "axis":{"values":[0,280,442.7,767,864.3,1146,1308.3,1632.7,1731.7,1828.7],
    "labelExpr":"datum.value < 1 ? 'Γ' : datum.value < 300 ? 'M' : datum.value < 500 ? 'K' : datum.value < 800 ? 'Γ' : datum.value < 900 ? 'A' : datum.value < 1200 ? 'L' : datum.value < 1400 ? 'H' : datum.value < 1700 ? 'A|L' : datum.value < 1780 ? 'M|K' : 'H'",
    "title":null,"ticks":false,"grid":true,"gridColor":"#808080","gridWidth":2.2,"gridOpacity":1,
    "labelFontSize":46,"labelPadding":18,"labelOverlap":false,"labelFlush":false,"labelBound":false}},
  "y":{"field":"e","type":"quantitative","scale":{"domain":[-2,2],"nice":false,"zero":false},
   "axis":{"values":[-2,-1.5,-1,-0.5,0,0.5,1,1.5,2],"format":".1f","title":"Energy (eV)",
    "titleFontSize":65,"titleFontWeight":"normal","titlePadding":39,"grid":false,
    "offset":-24,"ticks":true,"tickSize":24,"tickWidth":3,"tickColor":"black",
    "labelFontSize":46,"labelPadding":32,"labelOverlap":false,"labelFlush":false}},
  "detail":{"field":"b"},
  "order":{"field":"i","type":"quantitative"}}},
{"data":{"values":[{}]},
 "mark":{"type":"rule","color":"black","strokeWidth":2.6,"strokeDash":[15,7]},
 "encoding":{"y":{"datum":0}}}
]
}
